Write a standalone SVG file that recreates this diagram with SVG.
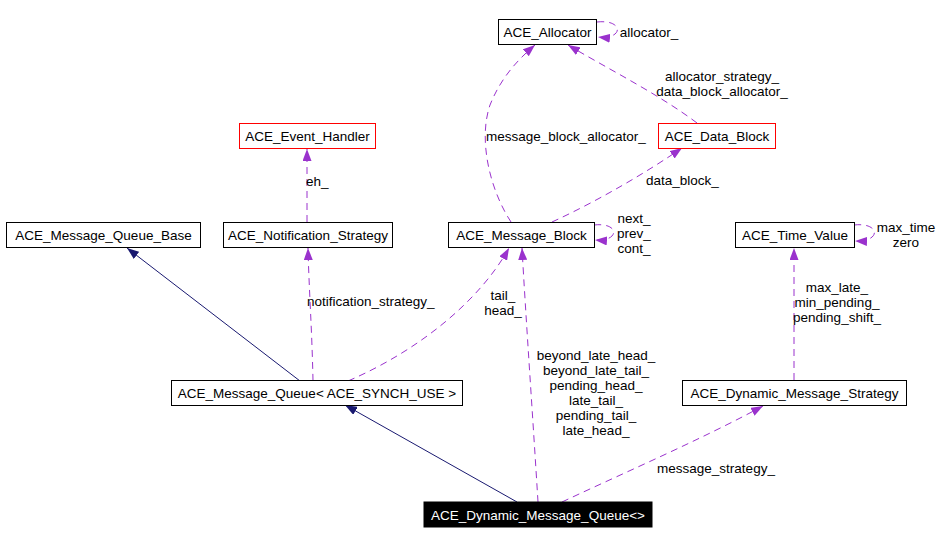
<svg xmlns="http://www.w3.org/2000/svg" width="942" height="544" viewBox="0 0 942 544">
<style>
.n rect{fill:#fff;stroke:#000;stroke-width:1}
.n.red rect{stroke:#ff0000}
.n.cur rect{fill:#000;stroke:#000}
text{font-family:"Liberation Sans",Arial,sans-serif;font-size:13.5px;fill:#000;text-anchor:middle}
.n.cur text{fill:#fff}
.e{fill:none;stroke:#9a32cd;stroke-width:1;stroke-dasharray:7,5}
.i{fill:none;stroke:#191970;stroke-width:1}
.l{text-anchor:middle}
.s{text-anchor:start}
</style>
<defs>
<marker id="ap" viewBox="0 0 12 9" refX="12" refY="4.5" markerWidth="12" markerHeight="9" markerUnits="userSpaceOnUse" orient="auto">
<path d="M0,0 L12,4.5 L0,9 z" fill="#9a32cd"/>
</marker>
<marker id="an" viewBox="0 0 12 9" refX="12" refY="4.5" markerWidth="12" markerHeight="9" markerUnits="userSpaceOnUse" orient="auto">
<path d="M0,0 L12,4.5 L0,9 z" fill="#191970"/>
</marker>
</defs>
<rect width="942" height="544" fill="#fff"/>
<g id="connectors">
<path class="i" d="M300,381 L127,248" marker-end="url(#an)"/>
<path class="i" d="M517,502 L345,405" marker-end="url(#an)"/>
<path class="e" d="M313,381 C312,330 309,290 308,248" marker-end="url(#ap)"/>
<path class="e" d="M307,222 L307,149" marker-end="url(#ap)"/>
<path class="e" d="M348,381 C420,350 480,300 509,248" marker-end="url(#ap)"/>
<path class="e" d="M538,502 C533,420 526,320 522,248" marker-end="url(#ap)"/>
<path class="e" d="M562,502 C630,470 700,440 763,406" marker-end="url(#ap)"/>
<path class="e" d="M794,380 L794,248" marker-end="url(#ap)"/>
<path class="e" d="M854,225 C880,222 882,242 855,241" marker-end="url(#ap)"/>
<path class="e" d="M594,225 C620,222 620,242 595,240" marker-end="url(#ap)"/>
<path class="e" d="M597,22 C624,19 624,40 598,37" marker-end="url(#ap)"/>
<path class="e" d="M552,222 C600,200 650,170 682,148" marker-end="url(#ap)"/>
<path class="e" d="M511,222 C490,190 478,140 490,105 C500,80 515,62 535,45" marker-end="url(#ap)"/>
<path class="e" d="M697,123 C660,95 610,70 568,45" marker-end="url(#ap)"/>
<text x="649" y="37" class="l">allocator_</text>
<text x="722" y="81">allocator_strategy_</text>
<text x="722" y="96">data_block_allocator_</text>
<text x="486" y="141" class="s">message_block_allocator_</text>
<text x="646" y="185" class="s">data_block_</text>
<text x="306" y="186" class="s">eh_</text>
<text x="634" y="223">next_</text>
<text x="634" y="238">prev_</text>
<text x="634" y="253">cont_</text>
<text x="906" y="232">max_time</text>
<text x="906" y="247">zero</text>
<text x="837" y="292">max_late_</text>
<text x="837" y="307">min_pending_</text>
<text x="837" y="322">pending_shift_</text>
<text x="307" y="306" class="s">notification_strategy_</text>
<text x="503" y="300">tail_</text>
<text x="503" y="315">head_</text>
<text x="596" y="360">beyond_late_head_</text>
<text x="596" y="375">beyond_late_tail_</text>
<text x="596" y="390">pending_head_</text>
<text x="596" y="405">late_tail_</text>
<text x="596" y="420">pending_tail_</text>
<text x="596" y="435">late_head_</text>
<text x="716" y="473">message_strategy_</text>
</g>
<g id="ACE_Allocator" class="n"><rect x="498.5" y="19.5" width="98" height="25"/><text x="547.5" y="37">ACE_Allocator</text></g>
<g id="ACE_Data_Block" class="n red"><rect x="658.5" y="123.5" width="117" height="25"/><text x="717" y="141">ACE_Data_Block</text></g>
<g id="ACE_Event_Handler" class="n red"><rect x="239.5" y="123.5" width="136" height="25"/><text x="307.5" y="141">ACE_Event_Handler</text></g>
<g id="ACE_Message_Queue_Base" class="n"><rect x="6.5" y="222.5" width="194" height="25"/><text x="103.5" y="240">ACE_Message_Queue_Base</text></g>
<g id="ACE_Notification_Strategy" class="n"><rect x="223.5" y="222.5" width="169" height="25"/><text x="308" y="240">ACE_Notification_Strategy</text></g>
<g id="ACE_Message_Block" class="n"><rect x="448.5" y="222.5" width="146" height="25"/><text x="521.5" y="240">ACE_Message_Block</text></g>
<g id="ACE_Time_Value" class="n"><rect x="735.5" y="222.5" width="119" height="25"/><text x="795" y="240">ACE_Time_Value</text></g>
<g id="ACE_Message_Queue" class="n"><rect x="171.5" y="380.5" width="291" height="25"/><text x="317" y="398">ACE_Message_Queue&lt; ACE_SYNCH_USE &gt;</text></g>
<g id="ACE_Dynamic_Message_Strategy" class="n"><rect x="682.5" y="380.5" width="224" height="25"/><text x="794.5" y="398">ACE_Dynamic_Message_Strategy</text></g>
<g id="ACE_Dynamic_Message_Queue" class="n cur"><rect x="424" y="502" width="228" height="25"/><text x="538" y="519.5">ACE_Dynamic_Message_Queue&lt;&gt;</text></g>
</svg>
